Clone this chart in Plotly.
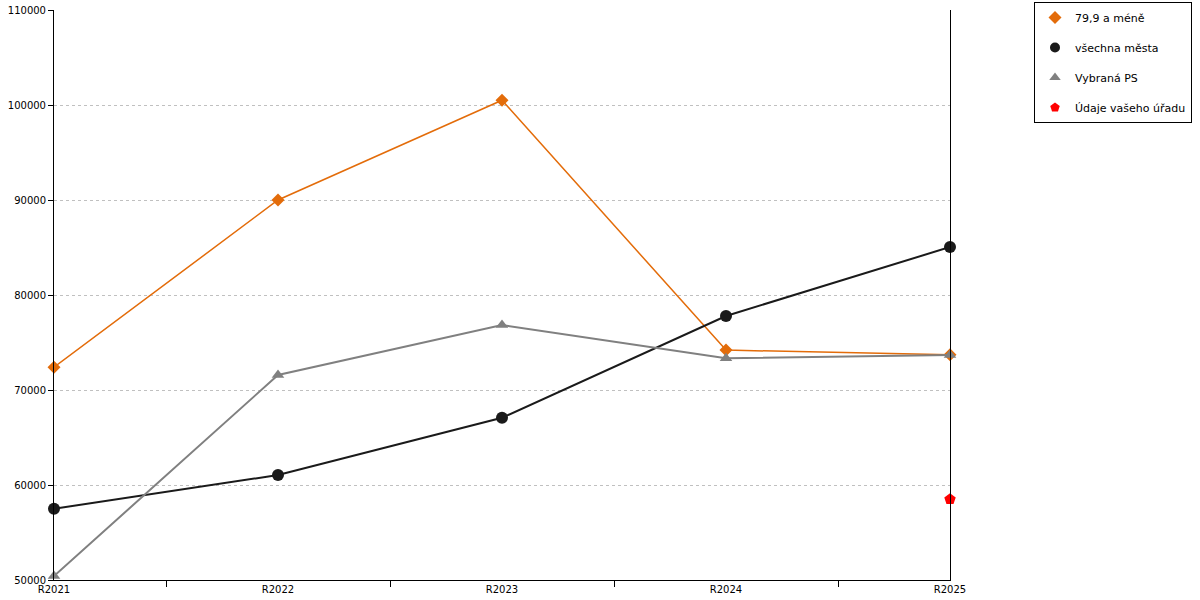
import plotly.graph_objects as go

categories = ["R2021", "R2022", "R2023", "R2024", "R2025"]
s_small = [72400, 90000, 100500, 74200, 73700]      # 79,9 a méně
s_all = [57500, 61050, 67070, 77790, 85050]         # všechna města
s_ps = [50420, 71580, 76840, 73350, 73680]          # Vybraná PS
s_office = [None, None, None, None, 58500]          # Údaje vašeho úřadu

names = ["79,9 a méně", "všechna města", "Vybraná PS", "Údaje vašeho úřadu"]
x = list(range(len(categories)))

ORANGE = "#E36C0A"
BLACK = "#1a1a1a"
GRAY = "#808080"
RED = "#ff0000"

fig = go.Figure()
specs = [
    (s_small, names[0], ORANGE, 1.5, "diamond", 10),
    (s_all, names[1], BLACK, 2, "circle", 12),
    (s_ps, names[2], GRAY, 2, "triangle-up", 11),
]
for vals, nm, col, w, sym, sz in specs:
    fig.add_trace(go.Scatter(x=x, y=vals, mode="lines+markers", name=nm,
                             line=dict(color=col, width=w),
                             marker=dict(symbol=sym, size=sz, color=col),
                             showlegend=False, legendgroup=nm, cliponaxis=False))
fig.add_trace(go.Scatter(x=x, y=s_office, mode="markers", name=names[3],
                         marker=dict(symbol="pentagon", size=12, color=RED),
                         showlegend=False, legendgroup=names[3], cliponaxis=False,
                         yaxis="y2"))
# legend-only marker entries
for nm, col, sym in [(names[0], ORANGE, "diamond"), (names[1], BLACK, "circle"),
                     (names[2], GRAY, "triangle-up"), (names[3], RED, "pentagon")]:
    fig.add_trace(go.Scatter(x=[None], y=[None], mode="markers", name=nm,
                             marker=dict(symbol=sym, size=10, color=col),
                             legendgroup=nm, showlegend=True))

fig.update_layout(
    width=1200, height=600,
    margin=dict(l=54, r=250, t=10, b=20, autoexpand=False),
    plot_bgcolor="white", paper_bgcolor="white",
    font=dict(family="DejaVu Sans", size=10, color="#000"),
    legend=dict(x=(1034 - 54) / 896, y=1.014, xanchor="left", yanchor="top",
                bordercolor="#000", borderwidth=1, bgcolor="white",
                font=dict(size=11), tracegroupgap=11, itemwidth=30),
    xaxis=dict(range=[0, 4], tickvals=x, ticktext=categories,
               showgrid=False, zeroline=False, showline=True,
               linecolor="#000", linewidth=1, ticks="", automargin=False,
               minor=dict(tick0=0.5, dtick=1, ticks="outside", ticklen=6,
                          tickcolor="#000", showgrid=False)),
    yaxis=dict(range=[50000, 110000], dtick=10000, tickformat="d",
               showgrid=True, automargin=False,
               gridcolor="#c0c0c0", griddash="dot", gridwidth=1,
               zeroline=False, showline=True, linecolor="#000", linewidth=1,
               ticks="outside", ticklen=5, tickcolor="#000"),
    yaxis2=dict(overlaying="y", side="right", anchor="x", range=[50000, 110000],
                showline=True, linecolor="#000", linewidth=1, showgrid=False,
                zeroline=False, showticklabels=False, ticks="", automargin=False),
)

fig.write_html("out.html", config={"displayModeBar": False},
               post_script="document.body.style.margin='0';")
